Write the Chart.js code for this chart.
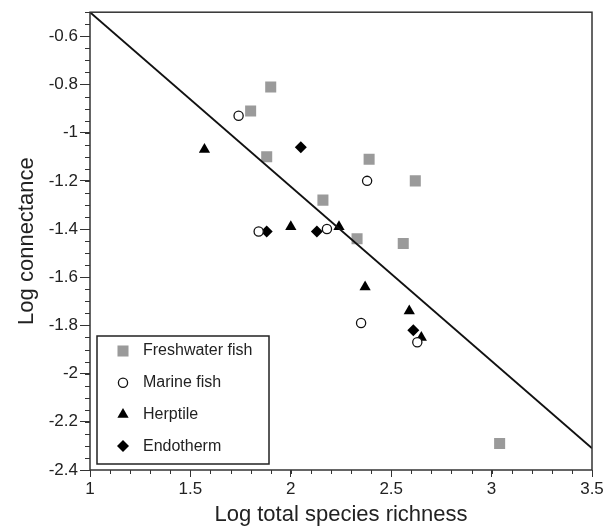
<!DOCTYPE html>
<html>
<head>
<meta charset="utf-8">
<script src="https://cdn.jsdelivr.net/npm/chart.js@4/dist/chart.umd.min.js"></script>
<style>
  html, body { margin: 0; padding: 0; background: #fff; }
  #wrap { width: 615px; height: 530px; }
</style>
</head>
<body>
<div id="wrap"><canvas id="c" width="615" height="530"></canvas></div>
<script>
'use strict';

// values
var freshwaterX = [1.90, 1.80, 1.88, 2.39, 2.62, 2.16, 2.33, 2.56, 3.04];
var freshwaterY = [-0.81, -0.91, -1.10, -1.11, -1.20, -1.28, -1.44, -1.46, -2.29];
var marineX = [1.74, 1.84, 2.38, 2.18, 2.35, 2.63];
var marineY = [-0.93, -1.41, -1.20, -1.40, -1.79, -1.87];
var herptileX = [1.57, 2.00, 2.24, 2.37, 2.59, 2.65];
var herptileY = [-1.07, -1.39, -1.39, -1.64, -1.74, -1.85];
var endothermX = [2.05, 1.88, 2.13, 2.61];
var endothermY = [-1.06, -1.41, -1.41, -1.82];
var fitX = [1, 3.5];
var fitY = [-0.5, -2.31];

var xTicks = [1, 1.5, 2, 2.5, 3, 3.5];
var yTicks = [-2.4, -2.2, -2, -1.8, -1.6, -1.4, -1.2, -1, -0.8, -0.6];
var xMinorStep = 0.1;
var yMinorStep = 0.05;

var FONT = '"Liberation Sans", Arial, Helvetica, sans-serif';

function pts(xs, ys) {
    return xs.map(function (x, i) { return {x: x, y: ys[i]}; });
}

var datasets = [
    {label: 'Freshwater fish', data: pts(freshwaterX, freshwaterY), pointStyle: 'rect',
        pointRadius: 7.8, backgroundColor: '#9a9a9a', borderColor: '#9a9a9a', borderWidth: 0, order: 2},
    {label: 'Marine fish', data: pts(marineX, marineY), pointStyle: 'circle',
        pointRadius: 4.6, backgroundColor: '#fff', borderColor: '#111', borderWidth: 1.3, order: 2},
    {label: 'Herptile', data: pts(herptileX, herptileY), pointStyle: 'triangle',
        pointRadius: 6.5, backgroundColor: '#000', borderColor: '#000', borderWidth: 0, order: 2},
    {label: 'Endotherm', data: pts(endothermX, endothermY), pointStyle: 'rectRot',
        pointRadius: 6, backgroundColor: '#000', borderColor: '#000', borderWidth: 0, order: 2},
    {label: 'fit', data: pts(fitX, fitY), showLine: true, pointRadius: 0,
        borderColor: '#111', borderWidth: 1.8, fill: false, order: 1}
];

// frame, minor ticks and the boxed legend
var extras = {
    id: 'extras',
    afterDraw: function (chart) {
        var ctx = chart.ctx, a = chart.chartArea,
            xs = chart.scales.x, ys = chart.scales.y, v, p;
        ctx.save();
        ctx.strokeStyle = '#333';
        ctx.lineWidth = 1.5;
        ctx.strokeRect(a.left, a.top, a.right - a.left, a.bottom - a.top);

        ctx.lineWidth = 1;
        ctx.beginPath();
        for (v = xs.min; v <= xs.max + 1e-9; v += xMinorStep) {
            p = Math.round(xs.getPixelForValue(v)) + 0.5;
            ctx.moveTo(p, a.bottom);
            ctx.lineTo(p, a.bottom + 4);
        }
        for (v = ys.min; v <= ys.max + 1e-9; v += yMinorStep) {
            p = Math.round(ys.getPixelForValue(v)) + 0.5;
            ctx.moveTo(a.left, p);
            ctx.lineTo(a.left - 5, p);
        }
        ctx.stroke();

        // legend box
        var bx = a.left + 7, by = a.bottom - 134, bw = 172, bh = 128;
        ctx.fillStyle = '#fff';
        ctx.fillRect(bx, by, bw, bh);
        ctx.lineWidth = 1.5;
        ctx.strokeStyle = '#222';
        ctx.strokeRect(bx, by, bw, bh);
        ctx.font = '16px ' + FONT;
        ctx.textBaseline = 'middle';
        for (var i = 0; i < 4; i++) {
            var ds = chart.data.datasets[i], cy = by + 15 + i * 31.7;
            ctx.fillStyle = ds.backgroundColor;
            ctx.strokeStyle = ds.borderColor;
            ctx.lineWidth = ds.borderWidth;
            Chart.helpers.drawPoint(ctx, {
                pointStyle: ds.pointStyle, radius: ds.pointRadius, borderWidth: ds.borderWidth
            }, bx + 26, cy);
            ctx.fillStyle = '#222';
            ctx.fillText(ds.label, bx + 46, cy);
        }
        ctx.restore();
    }
};

new Chart(document.getElementById('c'), {
    type: 'scatter',
    data: {datasets: datasets},
    options: {
        responsive: false,
        animation: false,
        layout: {padding: {left: 0, top: 10, right: 23, bottom: 0}},
        plugins: {legend: {display: false}, tooltip: {enabled: false}},
        scales: {
            x: {
                type: 'linear', min: 1, max: 3.5,
                afterBuildTicks: function (s) { s.ticks = xTicks.map(function (v) { return {value: v}; }); },
                afterFit: function (s) { s.height = 60; },
                border: {display: false},
                grid: {drawOnChartArea: false, drawTicks: true, tickLength: 7, color: '#333', tickWidth: 1},
                ticks: {color: '#222', font: {family: FONT, size: 17}, padding: 2,
                    callback: function (v) { return String(v); }},
                title: {display: true, text: 'Log total species richness', color: '#222',
                    font: {family: FONT, size: 22}, padding: {top: 0, bottom: 2}}
            },
            y: {
                type: 'linear', min: -2.4, max: -0.5,
                afterBuildTicks: function (s) { s.ticks = yTicks.map(function (v) { return {value: v}; }); },
                afterFit: function (s) { s.width = 90; },
                border: {display: false},
                grid: {drawOnChartArea: false, drawTicks: true, tickLength: 10, color: '#333', tickWidth: 1},
                ticks: {color: '#222', font: {family: FONT, size: 17}, padding: 2,
                    callback: function (v) { return String(Math.round(v * 10) / 10); }},
                title: {display: true, text: 'Log connectance', color: '#222',
                    font: {family: FONT, size: 22}, padding: {top: 14, bottom: 0}}
            }
        }
    },
    plugins: [extras]
});
</script>
</body>
</html>
